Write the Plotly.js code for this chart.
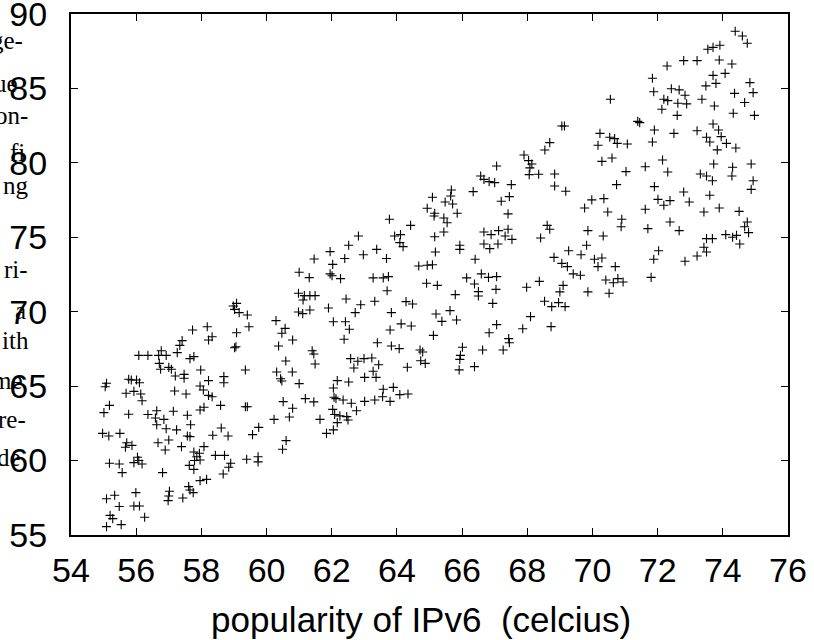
<!DOCTYPE html>
<html>
<head>
<meta charset="utf-8">
<script src="https://cdn.plot.ly/plotly-3.0.1.min.js"></script>
<style>html,body{margin:0;padding:0;background:#fff;}#chart{width:814px;height:640px;}</style>
</head>
<body>
<div id="chart"></div>
<script>
// Data: [popularity of IPv6 (celcius), value]
const lowerLeftPoints = [
[60.98,71.24],[61.16,71.08],[61.33,71.08],[61.49,71.08],[61.12,70.79],
[58.98,70.38],[59.08,70.56],[59.02,70.16],[59.16,69.94],[59.41,69.78],[59.46,68.99],
[60.98,69.98],[61.11,69.87],[61.33,70.12],[61.90,70.25],
[60.29,69.40],[60.57,68.88],[60.47,68.55],[60.80,68.10],[60.37,67.70],[60.59,66.69],[60.31,65.95],[60.43,65.50],[60.47,65.35],[60.79,65.95],[61.00,65.17],[61.40,67.38],[61.45,67.16],[61.49,66.49],
[60.51,63.96],[60.80,63.51],[61.19,64.16],[61.45,63.94],[60.23,62.77],[60.70,62.93],[61.64,62.77],[61.84,61.83],[60.60,61.34],[60.49,60.76],
[57.73,68.77],[58.18,68.99],[58.22,68.10],[58.33,68.32],[59.08,68.59],[59.02,67.58],[59.06,67.65],[57.41,68.06],[57.34,67.74],[57.26,67.25],
[56.08,67.07],[56.36,67.07],[56.69,67.07],[56.77,67.38],[56.92,67.07],[56.71,66.53],[56.75,66.13],[57.00,66.26],[57.08,66.13],[57.65,66.85],[57.77,66.98],[57.98,66.08],[59.35,66.08],
[57.20,65.68],[57.47,65.79],[57.47,65.53],[57.18,64.67],[57.53,64.47],[57.96,65.01],[58.06,64.74],[58.22,64.38],[58.33,64.29],[58.69,65.64],[58.69,65.23],[58.22,65.37],
[57.96,63.40],[58.08,63.58],[58.59,63.71],[59.35,63.62],[59.41,63.62],
[55.09,65.19],[55.05,64.96],[55.18,63.71],[55.01,63.22],[55.77,65.46],[55.85,65.41],[56.01,65.41],[56.10,65.23],[55.93,64.65],[55.69,64.52],[56.14,64.47],[56.18,64.02],[55.77,63.11],[56.36,63.09],[56.63,63.35],[56.59,62.86],[56.85,62.77],[56.63,62.41],[57.14,63.31],[57.57,63.04],[57.67,62.41],[56.92,62.14],[57.24,62.06],[57.57,61.65],[57.65,61.61],
[54.97,61.83],[55.16,61.65],[55.50,61.83],[55.71,61.20],[55.67,60.89],[55.87,61.02],[56.67,61.20],[57.00,61.38],[56.89,60.71],[57.39,60.94],[57.77,60.58],[57.86,60.26],[58.08,60.94],[57.94,60.49],[57.79,60.00],[57.96,60.04],[58.43,60.35],[58.71,60.35],[58.35,61.70],[58.61,62.19],[58.82,61.65],[59.57,61.74],[59.76,62.23],[58.90,59.82],[58.84,59.55],[58.67,59.10],[59.39,60.09],[59.74,60.26],[59.74,59.91],
[55.18,59.82],[55.48,59.77],[55.57,59.19],[55.93,59.86],[56.04,60.22],[56.08,60.00],[56.18,59.77],[56.81,59.19],[57.63,59.68],[57.77,59.41],[57.96,58.65],[58.16,58.74],[57.61,58.25],[57.65,58.02],[57.75,57.85],[57.43,57.49],[57.02,57.94],[57.00,57.62],[56.98,57.31],
[55.09,57.44],[55.34,57.67],[55.48,56.91],[55.99,57.85],[55.93,56.95],[56.10,56.95],[56.26,56.19],[55.20,56.32],[55.28,56.10],[55.09,55.56],[55.54,55.70],
[61.46,73.54],[61.00,72.65],[61.31,72.29]
];
const middleUpperPoints = [
[68.54,80.86],[67.90,80.53],[68.04,80.15],[68.14,79.92],[68.08,79.66],[68.06,79.21],[68.35,79.23],
[67.06,79.79],[66.57,79.12],[66.67,78.89],[66.83,78.74],[67.00,78.67],[67.51,78.54],[66.34,78.07],[65.67,78.18],[65.65,77.77],[65.09,77.69],[65.48,77.37],[65.71,77.24],[64.93,76.95],[65.85,76.61],[65.16,76.61],[65.14,76.43],[65.44,76.30],[65.54,75.98],[63.77,76.21],[64.42,75.80],[67.20,77.42],[67.45,77.73],[67.41,76.57],[65.44,75.36],[65.16,75.04],[63.93,75.09],[64.11,75.18],[64.09,74.64],[64.19,74.37],[62.82,75.09],[62.52,74.46],[63.38,74.19],[62.97,73.83],[62.40,73.57],[63.68,73.57],[61.95,74.04],[62.03,73.18],[61.95,72.54],[62.01,72.42],[62.27,72.22],[63.27,72.27],[63.58,72.27],[63.74,72.36],
[64.67,73.07],[64.93,73.12],[65.09,73.16],[65.18,74.01],[65.93,74.46],[65.93,74.19],[66.67,75.36],[66.89,75.18],[67.12,75.45],[67.41,75.54],[67.32,75.09],[67.53,74.86],[66.67,74.55],[66.85,74.24],[67.10,74.55],[66.40,73.52],[66.59,72.54],[66.81,72.31],[67.06,72.36],[66.14,72.27],[66.38,71.86],[64.91,71.91],[65.24,71.77],[67.04,71.50],[68.61,75.80],[68.41,74.95],[68.37,72.04],[67.98,71.64]
];
const middleLowerPoints = [
[62.44,70.85],[62.89,70.47],[63.32,70.70],[62.72,69.94],[62.05,69.33],[62.42,69.33],[62.54,68.82],[62.38,68.15],[63.70,71.41],[63.83,69.94],[64.28,70.68],[64.48,70.52],[64.13,69.18],[64.44,69.04],[63.79,68.77],[65.79,71.15],[66.50,71.35],[66.50,71.06],[66.94,70.56],[65.20,69.85],[65.38,69.35],[65.63,70.07],[65.83,69.44],[65.12,68.41],[63.40,67.92],[63.83,67.70],[64.07,67.52],[64.71,67.43],[64.79,67.29],[64.73,66.71],[64.87,66.53],[64.32,66.27],[66.01,67.61],[65.95,67.07],[65.93,66.80],[65.91,66.09],[66.38,66.31],[66.63,67.43],[67.26,67.43],[67.45,67.92],[67.43,68.19],[66.83,68.59],[67.06,69.13],[67.86,68.86],[68.10,69.67],[68.53,70.70],
[62.58,66.85],[62.80,66.67],[62.99,66.85],[63.23,66.89],[63.44,66.44],[62.68,66.22],[63.27,66.00],[63.36,65.59],[63.01,65.59],[62.52,65.28],[62.17,65.37],[62.05,64.88],[62.07,64.25],[62.13,64.16],[62.35,64.07],[62.60,63.85],[63.01,63.98],[63.32,64.07],[63.56,64.29],[63.58,64.79],[63.89,64.92],[63.79,63.98],[64.09,64.43],[64.34,64.47],[62.76,63.35],[62.03,63.44],[62.09,63.09],[62.25,63.00],[62.46,62.95],[62.50,62.73],[62.17,62.55],[62.05,62.06]
];
const upperRightPoints = [
[74.38,88.84],[74.60,88.52],[74.75,88.03],[73.54,87.63],[73.70,87.76],[73.91,87.90],[72.29,86.51],[72.80,86.87],[73.21,86.87],[73.89,86.91],[74.28,86.64],[73.70,85.88],[74.07,86.01],[71.84,85.68],[73.48,85.17],[73.79,85.34],[74.83,85.39],[71.88,84.78],[72.42,84.98],[72.66,84.90],[72.84,84.54],[72.19,84.27],[72.31,84.18],[72.62,84.00],[72.89,83.96],[73.36,84.27],[74.36,84.67],[74.93,84.72],[74.67,84.05],[72.13,83.60],[72.60,83.19],[73.74,83.82],[74.32,83.33],[74.97,83.19],[70.55,84.27],[69.06,82.48],[69.14,82.48],[71.39,82.79],[71.45,82.70],[73.70,82.61],[71.90,82.21],[72.50,81.98],[73.21,82.16],[73.50,81.72],[73.60,81.40],[73.87,82.21],[73.95,81.76],[74.11,81.31],[74.40,81.00],[73.83,80.87],[70.23,81.98],[70.53,81.72],[70.68,81.63],[70.76,81.31],[71.07,81.27],[70.17,81.18],[71.84,81.40],[68.69,81.36]
];
const lowerRightPoints = [
[70.60,80.33],[70.29,80.10],[72.15,80.19],[71.62,79.74],[71.03,79.41],[72.31,79.39],[68.84,79.25],[68.84,78.45],[69.18,78.09],[70.74,78.54],[71.90,78.40],[73.72,79.92],[74.30,79.70],[74.87,79.92],[73.31,79.25],[73.50,79.12],[73.68,78.80],[74.28,79.12],[74.93,78.80],[74.87,78.22],[72.80,78.04],[72.97,77.37],[73.60,77.82],[72.01,77.55],[72.38,77.46],[72.19,77.15],[71.62,76.88],[69.98,77.51],[70.35,77.60],[69.76,76.97],[70.47,76.70],[70.90,76.21],[70.88,75.71],[73.42,76.70],[73.89,76.97],[74.50,76.74],[68.69,75.54],[69.86,75.45],[70.33,75.09],[71.70,75.58],[72.38,76.03],[72.66,75.45],[74.75,76.03],[74.67,75.71],[74.79,75.31],[74.09,75.18],[74.30,75.00],[74.42,75.13],[74.52,74.55],[73.50,74.91],[73.68,74.91],[73.42,74.33],[73.50,74.01],[73.21,73.74],[72.84,73.39],[72.03,74.10],[71.88,73.52],[71.80,72.31],[69.82,74.46],[69.27,74.10],[69.65,73.83],[68.82,73.65],[69.06,73.25],[69.23,73.03],[70.06,73.52],[70.29,73.61],[70.17,73.03],[70.70,73.03],[69.41,72.54],[69.63,72.45],[70.41,72.13],[70.64,71.95],[70.78,72.22],[70.94,72.00],[70.51,71.24],[69.86,71.33],[69.10,71.77],[69.00,71.33],[68.96,70.61],[68.75,70.34],[69.16,70.34],[68.73,69.00]
];
const xTickValues = [54, 56, 58, 60, 62, 64, 66, 68, 70, 72, 74, 76];
const yTickValues = [55, 60, 65, 70, 75, 80, 85, 90];
const xTitle = "popularity of IPv6 \u00a0(celcius)";
const sideTextFragments = ["ge-","ue","on-","fi","ng","ri-","a","ith","me","re-","de"];

const allPoints = [].concat(lowerLeftPoints, middleUpperPoints, middleLowerPoints, upperRightPoints, lowerRightPoints);

const W = 814, H = 640;
const M = {l:71, r:26, t:14, b:105};
const PW = W - M.l - M.r, PH = H - M.t - M.b;
// layout helper: pixel -> paper
const px = (x) => (x - M.l) / PW;
const py = (y) => (H - M.b - y) / PH;

// layout placement of the clipped side-text fragments (right edge px, middle px)
const fragPos = [[25,40],[20,84],[30,115],[27,152],[31,186],[30,269],[28,310],[31,340],[25,380],[28,419],[23,457]];

const trace = {
  type: 'scatter',
  mode: 'markers',
  x: allPoints.map(p => p[0]),
  y: allPoints.map(p => p[1]),
  marker: {symbol: 'cross-thin', size: 6.5, color: '#000', line: {color: '#000', width: 1.1}},
  hoverinfo: 'x+y',
  showlegend: false
};

const axisCommon = {
  showline: true, linecolor: '#000', linewidth: 2, mirror: 'allticks',
  ticks: 'inside', ticklen: 7, tickwidth: 1, tickcolor: '#000',
  showgrid: false, zeroline: false, tickmode: 'array', ticklabeloverflow: 'allow',
  tickfont: {family: 'Liberation Sans, Arial, sans-serif', size: 34, color: '#000'}
};

const annotations = sideTextFragments.map((t, i) => ({
  text: t, xref: 'paper', yref: 'paper',
  x: px(fragPos[i][0]), y: py(fragPos[i][1]),
  xanchor: 'right', yanchor: 'middle', showarrow: false,
  font: {family: 'Liberation Serif, Times New Roman, serif', size: 25, color: '#000'}
}));
annotations.push({
  text: xTitle, xref: 'paper', yref: 'paper',
  x: px(421), y: py(619), xanchor: 'center', yanchor: 'middle', showarrow: false,
  font: {family: 'Liberation Sans, Arial, sans-serif', size: 35, color: '#000'}
});

const layout = {
  width: W, height: H,
  margin: {l: M.l, r: M.r, t: M.t, b: M.b, pad: 0},
  paper_bgcolor: '#fff', plot_bgcolor: '#fff',
  xaxis: Object.assign({}, axisCommon, {range: [54, 76], tickvals: xTickValues, ticktext: xTickValues.map(String), ticklabelstandoff: 4}),
  yaxis: Object.assign({}, axisCommon, {range: [55, 90], tickvals: yTickValues, ticktext: yTickValues.map(String), ticklabelstandoff: 15}),
  annotations: annotations,
  showlegend: false
};

Plotly.newPlot('chart', [trace], layout, {displayModeBar: false, staticPlot: true});
</script>
</body>
</html>
